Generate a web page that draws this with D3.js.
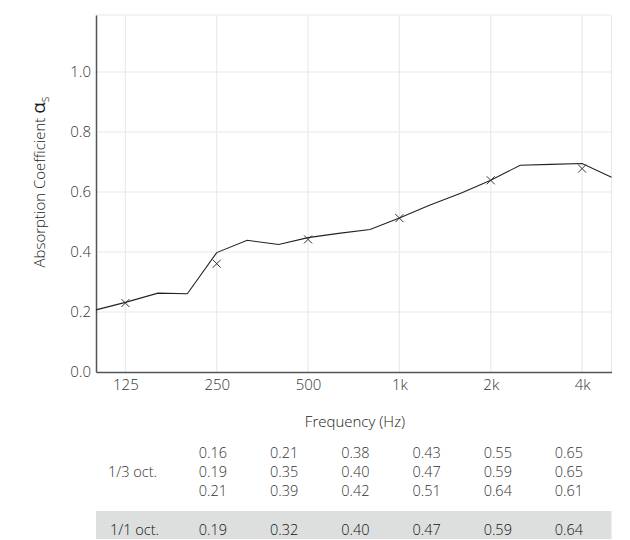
<!DOCTYPE html>
<html>
<head>
<meta charset="utf-8">
<script src="https://cdn.jsdelivr.net/npm/d3@7"></script>
<style>
  html, body { margin: 0; padding: 0; background: #fff; }
  svg { display: block; font-family: "Open Sans", Lato, sans-serif; font-weight: 300; }
</style>
</head>
<body>
<svg id="chart" width="630" height="540"></svg>
<script>
// ---- data ----
const thirdOctFreqs = [100, 125, 160, 200, 250, 315, 400, 500, 630, 800, 1000, 1250, 1600, 2000, 2500, 3150, 4000, 5000];
const thirdOctCurve = [0.207, 0.232, 0.263, 0.261, 0.398, 0.439, 0.425, 0.448, 0.462, 0.475, 0.513, 0.555, 0.597, 0.639, 0.689, 0.692, 0.695, 0.649];
const octFreqs = [125, 250, 500, 1000, 2000, 4000];
const octMarkers = [0.23, 0.361, 0.442, 0.513, 0.639, 0.678];
const xTickLabels = ["125", "250", "500", "1k", "2k", "4k"];
const yTicks = [0.0, 0.2, 0.4, 0.6, 0.8, 1.0];
const thirdOctTable = [
  [0.16, 0.19, 0.21],
  [0.21, 0.35, 0.39],
  [0.38, 0.40, 0.42],
  [0.43, 0.47, 0.51],
  [0.55, 0.59, 0.64],
  [0.65, 0.65, 0.61]
];
const octTable = [0.19, 0.32, 0.40, 0.47, 0.59, 0.64];
const rowLabels = ["1/3 oct.", "1/1 oct."];

// ---- layout ----
const svg = d3.select("#chart");
const L = 96, R = 611.5, T = 15, B = 372;
const x = d3.scaleLog().domain([100, 5000]).range([L, R]);
const y = d3.scaleLinear().domain([0, 1.19]).range([B, T]);
const gridColor = "#e9eaea";

// grid
const grid = svg.append("g");
grid.selectAll("line.h").data(yTicks.slice(1)).join("line")
  .attr("x1", L).attr("x2", R)
  .attr("y1", d => y(d)).attr("y2", d => y(d))
  .attr("stroke", gridColor).attr("stroke-width", 1.2);
grid.selectAll("line.v").data(octFreqs).join("line")
  .attr("y1", T).attr("y2", B)
  .attr("x1", d => x(d)).attr("x2", d => x(d))
  .attr("stroke", gridColor).attr("stroke-width", 1.2);
// top and right border
grid.append("line").attr("x1", L).attr("x2", R).attr("y1", T).attr("y2", T)
  .attr("stroke", gridColor).attr("stroke-width", 1.2);
grid.append("line").attr("x1", R).attr("x2", R).attr("y1", T).attr("y2", B)
  .attr("stroke", gridColor).attr("stroke-width", 1.2);

// axes
const xAxis = d3.axisBottom(x).tickValues(octFreqs)
  .tickFormat((d, i) => xTickLabels[i]).tickSize(0).tickPadding(7);
const gx = svg.append("g").attr("transform", `translate(0,${B})`).call(xAxis);
gx.select(".domain").attr("stroke", "#555").attr("stroke-width", 1.5);
gx.selectAll("text").attr("fill", "#333").style("font-size", "15px")
  .style("font-family", "'Open Sans', sans-serif").style("font-weight", 300);

const yAxis = d3.axisLeft(y).tickValues(yTicks)
  .tickFormat(d3.format(".1f")).tickSize(0).tickPadding(5);
const gy = svg.append("g").attr("transform", `translate(${L},0)`).call(yAxis);
gy.select(".domain").attr("stroke", "#555").attr("stroke-width", 1.5);
gy.selectAll("text").attr("fill", "#333").style("font-size", "15px")
  .style("font-family", "'Open Sans', sans-serif").style("font-weight", 300);

// y label
const yl = svg.append("text")
  .attr("transform", `translate(45,182) rotate(-90)`)
  .attr("text-anchor", "middle")
  .attr("fill", "#1a1a1a").style("font-size", "15px");
yl.append("tspan").text("Absorption Coefficient ");
yl.append("tspan").text("α").style("font-size", "19px").style("font-weight", 400);
yl.append("tspan").text("s").style("font-size", "12px").attr("dy", 4);

// curve
svg.append("path")
  .datum(thirdOctFreqs.map((f, i) => [f, thirdOctCurve[i]]))
  .attr("d", d3.line().x(d => x(d[0])).y(d => y(d[1])))
  .attr("fill", "none").attr("stroke", "#222").attr("stroke-width", 1.1);

// markers
const s = 4;
const mk = svg.append("g").selectAll("g").data(octFreqs).join("g")
  .attr("transform", (d, i) => `translate(${x(d)},${y(octMarkers[i])})`);
mk.append("line").attr("x1", -s).attr("y1", -s).attr("x2", s).attr("y2", s)
  .attr("stroke", "#333").attr("stroke-width", 1);
mk.append("line").attr("x1", -s).attr("y1", s).attr("x2", s).attr("y2", -s)
  .attr("stroke", "#333").attr("stroke-width", 1);

// x label
svg.append("text").attr("x", 355).attr("y", 422).attr("dy", "0.35em")
  .attr("text-anchor", "middle").attr("fill", "#1a1a1a").style("font-size", "15px")
  .text("Frequency (Hz)");

// table
const colX = d3.scalePoint().domain(d3.range(6)).range([213, 569]);
const rowY = [453, 472, 491];
const tbl = svg.append("g").style("font-size", "14.5px").attr("fill", "#333");
tbl.append("text").attr("x", 108).attr("y", rowY[1]).attr("dy", "0.35em").text(rowLabels[0]);
thirdOctTable.forEach((col, ci) => {
  col.forEach((v, ri) => {
    tbl.append("text").attr("x", colX(ci)).attr("y", rowY[ri]).attr("dy", "0.35em")
      .attr("text-anchor", "middle").text(d3.format(".2f")(v));
  });
});
tbl.append("rect").attr("x", L).attr("y", 511).attr("width", R - L).attr("height", 28)
  .attr("fill", "#dcdfde");
tbl.append("text").attr("x", 110).attr("y", 530).attr("dy", "0.35em").attr("fill", "#111")
  .text(rowLabels[1]);
octTable.forEach((v, ci) => {
  tbl.append("text").attr("x", colX(ci)).attr("y", 530).attr("dy", "0.35em")
    .attr("text-anchor", "middle").attr("fill", "#111")
    .text(d3.format(".2f")(v));
});
</script>
</body>
</html>
